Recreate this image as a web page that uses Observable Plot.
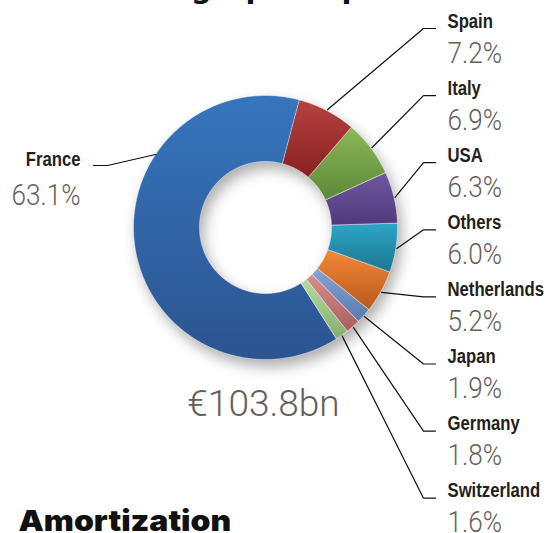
<!DOCTYPE html>
<html><head><meta charset="utf-8">
<script src="https://cdn.jsdelivr.net/npm/d3@7"></script>
<script src="https://cdn.jsdelivr.net/npm/@observablehq/plot@0.6"></script>
<style>
html,body{margin:0;padding:0;background:#fff;}
#chart svg{display:block;overflow:hidden;}
</style></head><body><div id="chart"></div>
<script>
// ---- data ----
const countries   = ["France","Spain","Italy","USA","Others","Netherlands","Japan","Germany","Switzerland"];
const shares      = [63.1, 7.2, 6.9, 6.3, 6.0, 5.2, 1.9, 1.8, 1.6];
const shareLabels = ["63.1%","7.2%","6.9%","6.3%","6.0%","5.2%","1.9%","1.8%","1.6%"];
const colorsTop    = ["#3675bd","#b84242","#8cb855","#7058a2","#2ca6c8","#f38838","#84a4da","#d98e8e","#b2da9c"];
const colorsBottom = ["#2c5490","#882020","#5c883a","#50397a","#1d768e","#b75a1b","#5a7aaa","#a85e5e","#86ae6e"];
const totalLabel = "€103.8bn";
const titleText  = "Geographic split";
const footerText = "Amortization";

// ---- layout (pixels) ----
const W = 547, H = 533, CX = 265, CY = 227, R_OUT = 132, R_IN = 66;
const START = 14.8 * Math.PI / 180;

const items = countries.map((c, i) => ({country: c, share: shares[i], label: shareLabels[i], i}));
// clockwise order: Spain ... Switzerland, then France
const pie = d3.pie().sort(null).value(d => d.share).startAngle(START).endAngle(START + 2 * Math.PI);
const arcs = pie([...items.slice(1), items[0]]);

const pt = (a, r) => ({x: CX + r * Math.sin(a), y: CY - r * Math.cos(a)});

const slicePts = arcs.flatMap(a => {
  const n = Math.max(2, Math.ceil((a.endAngle - a.startAngle) / (Math.PI / 180)));
  const out = [];
  for (let k = 0; k <= n; k++) out.push({country: a.data.country, ...pt(a.startAngle + (a.endAngle - a.startAngle) * k / n, R_OUT)});
  for (let k = n; k >= 0; k--) out.push({country: a.data.country, ...pt(a.startAngle + (a.endAngle - a.startAngle) * k / n, R_IN)});
  return out;
});

// label layout
const RIGHT_X = 447, ELBOW_R = 423, END_R = 435, ROW0 = 27, ROW = 67.1, PCT_DY = 35;
const LEFT_X = 80, ELBOW_L = 107, END_L = 93, LEFT_BASE = 165;

const rightArcs = arcs.filter(a => a.data.country !== "France");
const rightNames = rightArcs.map((a, j) => ({text: a.data.country, x: RIGHT_X, y: ROW0 + ROW * j}));
const rightPcts  = rightArcs.map((a, j) => ({text: a.data.label, x: RIGHT_X, y: ROW0 + ROW * j + PCT_DY}));
const leaders = rightArcs.flatMap((a, j) => {
  const ly = ROW0 + ROW * j + 1;
  const m = (a.startAngle + a.endAngle) / 2;
  const p = pt(m, R_OUT + 1);
  return [{id: a.data.country, ...p}, {id: a.data.country, x: ELBOW_R, y: ly}, {id: a.data.country, x: END_R, y: ly}];
});
const fr = arcs.find(a => a.data.country === "France");
{
  const ay = LEFT_BASE - 11;
  const ax = CX - Math.sqrt(R_OUT * R_OUT - (ay - CY) * (ay - CY));
  leaders.push({id: "France", x: ax, y: ay}, {id: "France", x: ELBOW_L, y: LEFT_BASE}, {id: "France", x: END_L, y: LEFT_BASE});
}
const leftNames = [{text: fr.data.country, x: LEFT_X, y: LEFT_BASE}];
const leftPcts  = [{text: fr.data.label, x: LEFT_X, y: LEFT_BASE + 39}];

const NAME_FONT = "'Liberation Sans',Arial,sans-serif";
const PCT_FONT = "Roboto,'Liberation Sans',sans-serif";
const HEAVY_FONT = "Inter,'DejaVu Sans',sans-serif";
const GREY = "#655e5c";

const marks = {
  slices: Plot.line(slicePts, {x: "x", y: "y", z: "country", fill: "country", stroke: "#fff", strokeWidth: 0.8, strokeOpacity: 0.55, curve: "linear-closed"}),
  leaders: Plot.line(leaders, {x: "x", y: "y", z: "id", stroke: "#111", strokeWidth: 1.2, curve: "linear"}),
  rNames: Plot.text(rightNames, {x: "x", y: "y", text: "text", textAnchor: "start", lineAnchor: "bottom", fontFamily: NAME_FONT, fontWeight: "bold", fontSize: 20, fill: "#231f20"}),
  rPcts: Plot.text(rightPcts, {x: "x", y: "y", text: "text", textAnchor: "start", lineAnchor: "bottom", fontFamily: PCT_FONT, fontWeight: 300, fontSize: 30, fill: GREY}),
  lNames: Plot.text(leftNames, {x: "x", y: "y", text: "text", textAnchor: "end", lineAnchor: "bottom", fontFamily: NAME_FONT, fontWeight: "bold", fontSize: 20, fill: "#231f20"}),
  lPcts: Plot.text(leftPcts, {x: "x", y: "y", text: "text", textAnchor: "end", lineAnchor: "bottom", fontFamily: PCT_FONT, fontWeight: 300, fontSize: 30, fill: GREY}),
  total: Plot.text([totalLabel], {x: () => 263, y: () => 415, text: d => d, textAnchor: "middle", lineAnchor: "bottom", fontFamily: PCT_FONT, fontWeight: 300, fontSize: 37, fill: GREY}),
  title: Plot.text([titleText], {x: () => 127, y: () => -3, text: d => d, textAnchor: "start", lineAnchor: "bottom", fontFamily: "'DejaVu Sans',sans-serif", fontWeight: "bold", fontSize: 29, fill: "#111"}),
  footer: Plot.text([footerText], {x: () => 18, y: () => 530, text: d => d, textAnchor: "start", lineAnchor: "bottom", fontFamily: HEAVY_FONT, fontWeight: 900, fontSize: 29, fill: "#111"})
};
const order = Object.keys(marks);

const svg = Plot.plot({
  width: W, height: H, margin: 0,
  x: {domain: [0, W], range: [0, W], axis: null},
  y: {domain: [0, H], range: [0, H], axis: null},
  color: {type: "ordinal", domain: countries, range: colorsTop},
  marks: order.map(k => marks[k])
});

const root = d3.select(svg);
const groups = Array.from(svg.children).filter(n => n.tagName.toLowerCase() === "g");
const groupOf = k => groups[order.indexOf(k)];

const defs = root.insert("defs", ":first-child");
countries.forEach((c, i) => {
  const g = defs.append("linearGradient").attr("id", `grad-${i}`).attr("x1", 0).attr("y1", 0).attr("x2", 0).attr("y2", 1);
  g.append("stop").attr("offset", "0%").attr("stop-color", colorsTop[i]);
  g.append("stop").attr("offset", "100%").attr("stop-color", colorsBottom[i]);
});
const sg = groupOf("slices");
if (sg) {
  sg.style.filter = "drop-shadow(4px 7px 7px rgba(0,0,0,0.32))";
  d3.select(sg).selectAll("path").each(function () {
    const i = colorsTop.indexOf(this.getAttribute("fill"));
    if (i >= 0) this.setAttribute("fill", `url(#grad-${i}) ${colorsTop[i]}`);
  });
}
// adjust glyph width horizontally around each text's anchor
function condense(k, s) {
  const g = groupOf(k);
  if (!g) return;
  d3.select(g).selectAll("text").each(function () {
    const x = parseFloat(this.getAttribute("x") || 0);
    const t = this.getAttribute("transform") || "";
    this.setAttribute("transform", `${t} translate(${x},0) scale(${s},1) translate(${-x},0)`);
  });
}
["rNames", "lNames"].forEach(k => condense(k, 0.835));
["rPcts", "lPcts"].forEach(k => condense(k, 0.87));
condense("footer", 1.1);
document.getElementById("chart").appendChild(svg);
</script></body></html>
